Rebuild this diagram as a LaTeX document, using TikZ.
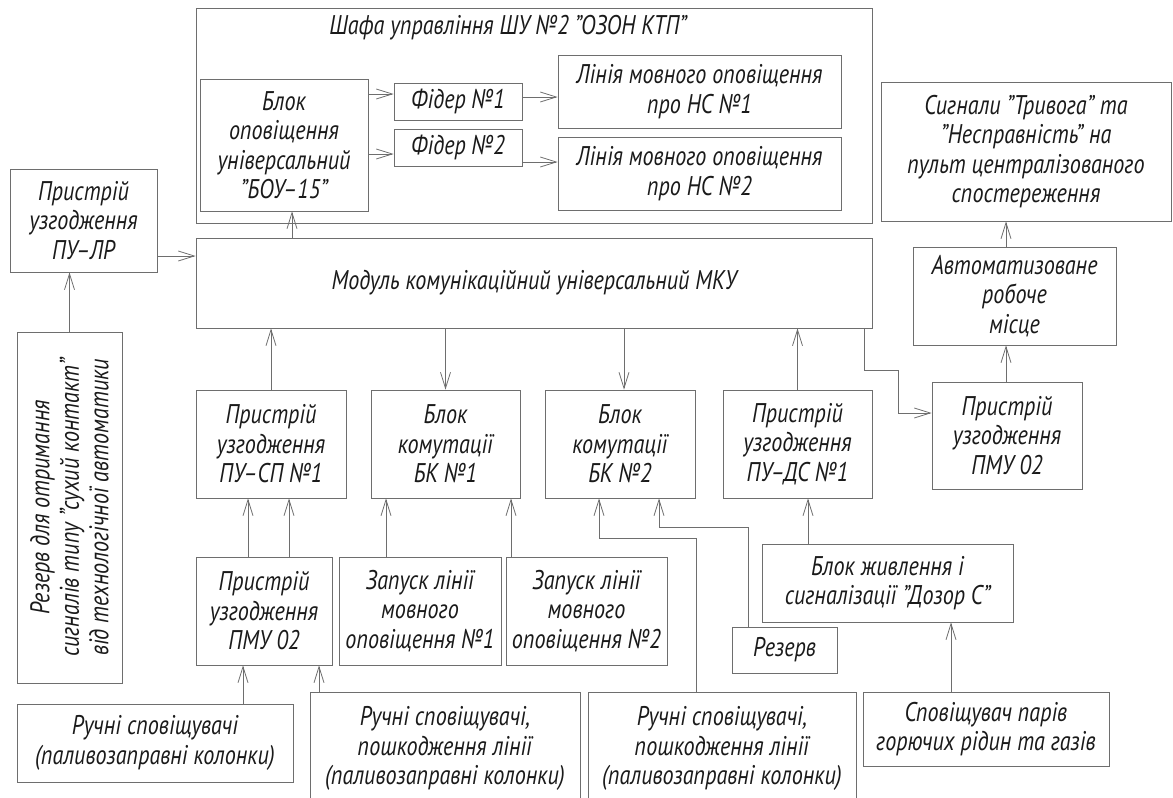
\documentclass[tikz,border=0pt]{standalone}
\usepackage{fontspec}
\setmainfont{PT Sans}[FakeStretch=0.82]
\usepackage{tikz}
\usetikzlibrary{arrows.meta,positioning}
\definecolor{txtink}{HTML}{1A1A1A}
\definecolor{wiregray}{HTML}{6E6E6E}

\begin{document}
\begin{tikzpicture}[x=1pt,y=-1pt,
    blk/.style={draw=wiregray,line width=0.8pt,align=center,text=txtink,
      font=\fontsize{27}{29.5}\selectfont\itshape},
    arr/.style={draw=wiregray,line width=0.8pt,-{Straight Barb[length=16pt,width=10pt]}}]
      \useasboundingbox (0,0) rectangle (1173,798);
      % control cabinet
      \node[blk,minimum width=676,minimum height=215] (shu) at (534,115.5) {};
      \node[font=\fontsize{27}{29.5}\selectfont\itshape,text=txtink] (title) at (508,28)
        {Шафа управління ШУ №2 "ОЗОН КТП"};
      \node[blk,minimum width=168,minimum height=132] (bou) at (284,145)
        {Блок\\оповіщення\\універсальний\\"БОУ–15"};
      \node[blk,minimum width=128,minimum height=37] (fid1) at (458,101.5) {Фідер №1};
      \node[blk,minimum width=128,minimum height=37] (fid2) at (458,147.5) {Фідер №2};
      \node[blk,minimum width=283,minimum height=73] (lin1) at (699.5,91.5)
        {Лінія мовного оповіщення\\про НС №1};
      \node[blk,minimum width=283,minimum height=73] (lin2) at (699.5,173.5)
        {Лінія мовного оповіщення\\про НС №2};
      % main module
      \node[blk,minimum width=147,minimum height=103] (pulr) at (83.5,220.5)
        {Пристрій\\узгодження\\ПУ–ЛР};
      \node[blk,minimum width=676,minimum height=90] (mku) at (534,283)
        {Модуль комунікаційний універсальний МКУ};
      \node[blk,minimum width=290,minimum height=139] (sig) at (1026,151.5)
        {Сигнали "Тривога" та\\"Несправність" на\\пульт централізованого\\спостереження};
      \node[blk,minimum width=203,minimum height=98] (arm) at (1014.5,296)
        {Автоматизоване\\робоче\\місце};
      \node[blk,minimum width=150,minimum height=107] (pmu2) at (1007,435.5)
        {Пристрій\\узгодження\\ПМУ 02};
      \node[blk,rotate=90,minimum width=351,minimum height=105] (rezv) at (69.5,507.5)
        {Резерв для отримання\\сигналів типу "сухий контакт"\\від технологічної автоматики};
      % second row
      \node[blk,minimum width=150,minimum height=108] (pusp) at (271,444)
        {Пристрій\\узгодження\\ПУ–СП №1};
      \node[blk,minimum width=149,minimum height=108] (bk1) at (445.5,444)
        {Блок\\комутації\\БК №1};
      \node[blk,minimum width=150,minimum height=108] (bk2) at (620,444)
        {Блок\\комутації\\БК №2};
      \node[blk,minimum width=149,minimum height=108] (puds) at (797.5,444)
        {Пристрій\\узгодження\\ПУ–ДС №1};
      % third row
      \node[blk,minimum width=136,minimum height=108] (pmu1) at (264,611)
        {Пристрій\\узгодження\\ПМУ 02};
      \node[blk,minimum width=162,minimum height=108] (zap1) at (420,611)
        {Запуск лінії\\мовного\\оповіщення №1};
      \node[blk,minimum width=161,minimum height=108] (zap2) at (586.5,611)
        {Запуск лінії\\мовного\\оповіщення №2};
      \node[blk,minimum width=251,minimum height=78] (zhyv) at (887.5,583)
        {Блок живлення і\\сигналізації "Дозор С"};
      \node[blk,minimum width=105,minimum height=46] (rez) at (784.5,650) {Резерв};
      % detectors
      \node[blk,minimum width=276,minimum height=78] (ruch1) at (155,743)
        {Ручні сповіщувачі\\(паливозаправні колонки)};
      \node[blk,minimum width=270,minimum height=113] (ruch2) at (445,748.5)
        {Ручні сповіщувачі,\\пошкодження лінії\\(паливозаправні колонки)};
      \node[blk,minimum width=268,minimum height=113] (ruch3) at (722,748.5)
        {Ручні сповіщувачі,\\пошкодження лінії\\(паливозаправні колонки)};
      \node[blk,minimum width=246,minimum height=74] (spos) at (986,729)
        {Сповіщувач парів\\горючих рідин та газів};
      % links
      \draw[arr] (bou.east |- 0,94) -- (fid1.west |- 0,94);
      \draw[arr] (bou.east |- 0,154) -- (fid2.west |- 0,154);
      \draw[arr] (fid1.east |- 0,97) -- (lin1.west |- 0,97);
      \draw[arr] (fid2.east |- 0,162) -- (lin2.west |- 0,162);
      \draw[arr] (mku.north -| 292,0) -- (bou.south -| 292,0);
      \draw[arr] (pulr.east |- 0,256) -- (mku.west |- 0,256);
      \draw[arr] (rezv.east) -- (pulr.south -| rezv.east);
      \draw[arr] (pusp.north) -- (mku.south -| pusp.north);
      \draw[arr] (mku.south -| bk1.north) -- (bk1.north);
      \draw[arr] (mku.south -| 624,0) -- (bk2.north -| 624,0);
      \draw[arr] (puds.north) -- (mku.south -| puds.north);
      \draw[arr] (mku.south -| 864,0) |- (898,370) |- (pmu2.west |- 0,413);
      \draw[arr] (pmu2.north -| 1006,0) -- (arm.south -| 1006,0);
      \draw[arr] (arm.north -| 1006,0) -- (sig.south -| 1006,0);
      \draw[arr] (pmu1.north -| 248,0) -- (pusp.south -| 248,0);
      \draw[arr] (pmu1.north -| 289,0) -- (pusp.south -| 289,0);
      \draw[arr] (ruch1.north -| 243,0) -- (pmu1.south -| 243,0);
      \draw[arr] (ruch2.north -| 319,0) -- (pmu1.south -| 319,0);
      \draw[arr] (zap1.north -| 386,0) -- (bk1.south -| 386,0);
      \draw[arr] (zap2.north -| 511,0) -- (bk1.south -| 511,0);
      \draw[arr] (ruch3.north -| 696,0) |- (599,538) -- (bk2.south -| 599,0);
      \draw[arr] (rez.north -| 748,0) |- (659,527) -- (bk2.south -| 659,0);
      \draw[arr] (zhyv.north -| 808,0) -- (puds.south -| 808,0);
      \draw[arr] (spos.north -| 951,0) -- (zhyv.south -| 951,0);
    \end{tikzpicture}
\end{document}
